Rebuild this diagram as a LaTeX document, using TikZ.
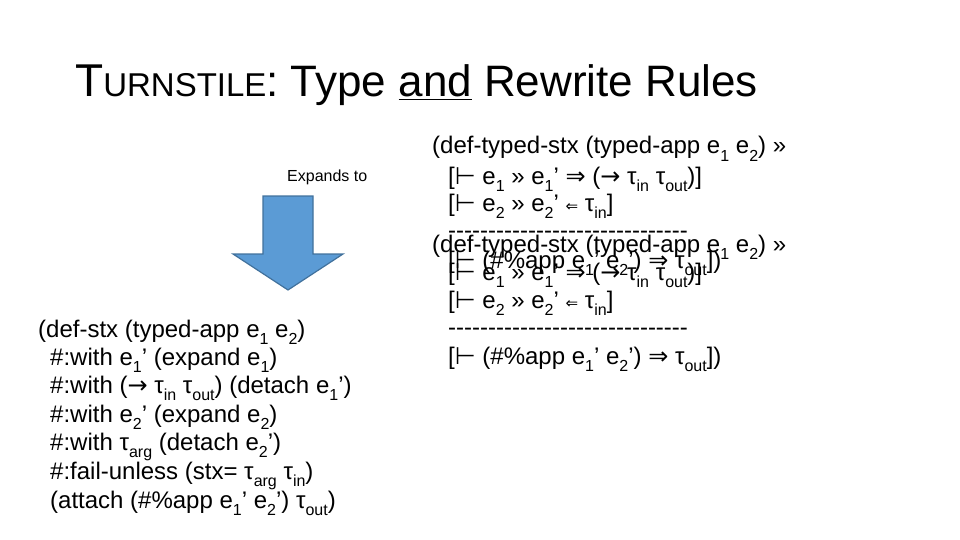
\documentclass[tikz,border=0pt]{standalone}
\usepackage{fontspec}
\setmainfont{Liberation Sans}
\newfontfamily\sym{DejaVu Sans}
\newcommand{\sbx}[1]{\raisebox{-0.3em}{\fontsize{16pt}{16pt}\selectfont #1}}
\newcommand{\TS}{{\sym ⊢}}
\newcommand{\RA}{{\sym ⇒}}
\newcommand{\LA}{{\fontsize{15pt}{15pt}\selectfont\sym ⇐}}
\newcommand{\AR}{{\sym →}}
\newcommand{\DASH}{{-}{-}{-}{-}{-}{-}{-}{-}{-}{-}{-}{-}{-}{-}{-}{-}{-}{-}{-}{-}{-}{-}{-}{-}{-}{-}{-}{-}{-}{-}}
\begin{document}
\begin{tikzpicture}[x=1pt,y=-1pt,
  tx/.style={anchor=base west,inner sep=0pt,font=\fontsize{24pt}{28pt}\selectfont}]
\useasboundingbox (0,0) rectangle (960,540);
\node[anchor=base west,inner sep=0pt] (title) at (75,97)
 {\fontsize{46pt}{52pt}\selectfont T\fontsize{33pt}{40pt}\selectfont URNSTILE\fontsize{44pt}{52pt}\selectfont: Type \underline{and} Rewrite Rules};
\node[anchor=base west,inner sep=0pt,font=\fontsize{16pt}{18pt}\selectfont] (exp) at (287,182) {Expands to};
\draw[fill={rgb,255:red,91;green,155;blue,213},draw={rgb,255:red,65;green,113;blue,156},line width=1.2pt]
 (263,196) -- (313,196) -- (313,254) -- (343,254) -- (288,290) -- (233,254) -- (263,254) -- cycle;
% left block
\node[tx] (l1) at (38,337) {(def-stx (typed-app e\sbx{1} e\sbx{2})};
\node[tx] (l2) at (50,365) {\#:with e\sbx{1}’ (expand e\sbx{1})};
\node[tx] (l3) at (50,393) {\#:with (\AR{} τ\sbx{in} τ\sbx{out}) (detach e\sbx{1}’)};
\node[tx] (l4) at (50,422) {\#:with e\sbx{2}’ (expand e\sbx{2})};
\node[tx] (l5) at (50,450) {\#:with τ\sbx{arg} (detach e\sbx{2}’)};
\node[tx] (l6) at (50,479) {\#:fail-unless (stx= τ\sbx{arg} τ\sbx{in})};
\node[tx] (l7) at (50,508) {(attach (\#\%app e\sbx{1}’ e\sbx{2}’) τ\sbx{out})};
% right block 1
\node[tx] (a1) at (432,154) {(def-typed-stx (typed-app e\sbx{1} e\sbx{2}) »};
\node[tx] (a2) at (448,184) {[\TS{} e\sbx{1} » e\sbx{1}’ \RA{} (\AR{} τ\sbx{in} τ\sbx{out})]};
\node[tx] (a3) at (448,211) {[\TS{} e\sbx{2} » e\sbx{2}’ \LA{} τ\sbx{in}]};
\node[tx] (a4) at (448,238) {\DASH};
\node[tx] (a5) at (448,268) {[\TS{} (\#\%app e\sbx{1}’ e\sbx{2}’) \RA{} τ\sbx{out}])};
% right block 2
\node[tx] (b1) at (432,252) {(def-typed-stx (typed-app e\sbx{1} e\sbx{2}) »};
\node[tx] (b2) at (448,280) {[\TS{} e\sbx{1} » e\sbx{1}’ \RA{} (\AR{} τ\sbx{in} τ\sbx{out})]};
\node[tx] (b3) at (448,308) {[\TS{} e\sbx{2} » e\sbx{2}’ \LA{} τ\sbx{in}]};
\node[tx] (b4) at (448,335) {\DASH};
\node[tx] (b5) at (448,364) {[\TS{} (\#\%app e\sbx{1}’ e\sbx{2}’) \RA{} τ\sbx{out}])};
\end{tikzpicture}
\end{document}
